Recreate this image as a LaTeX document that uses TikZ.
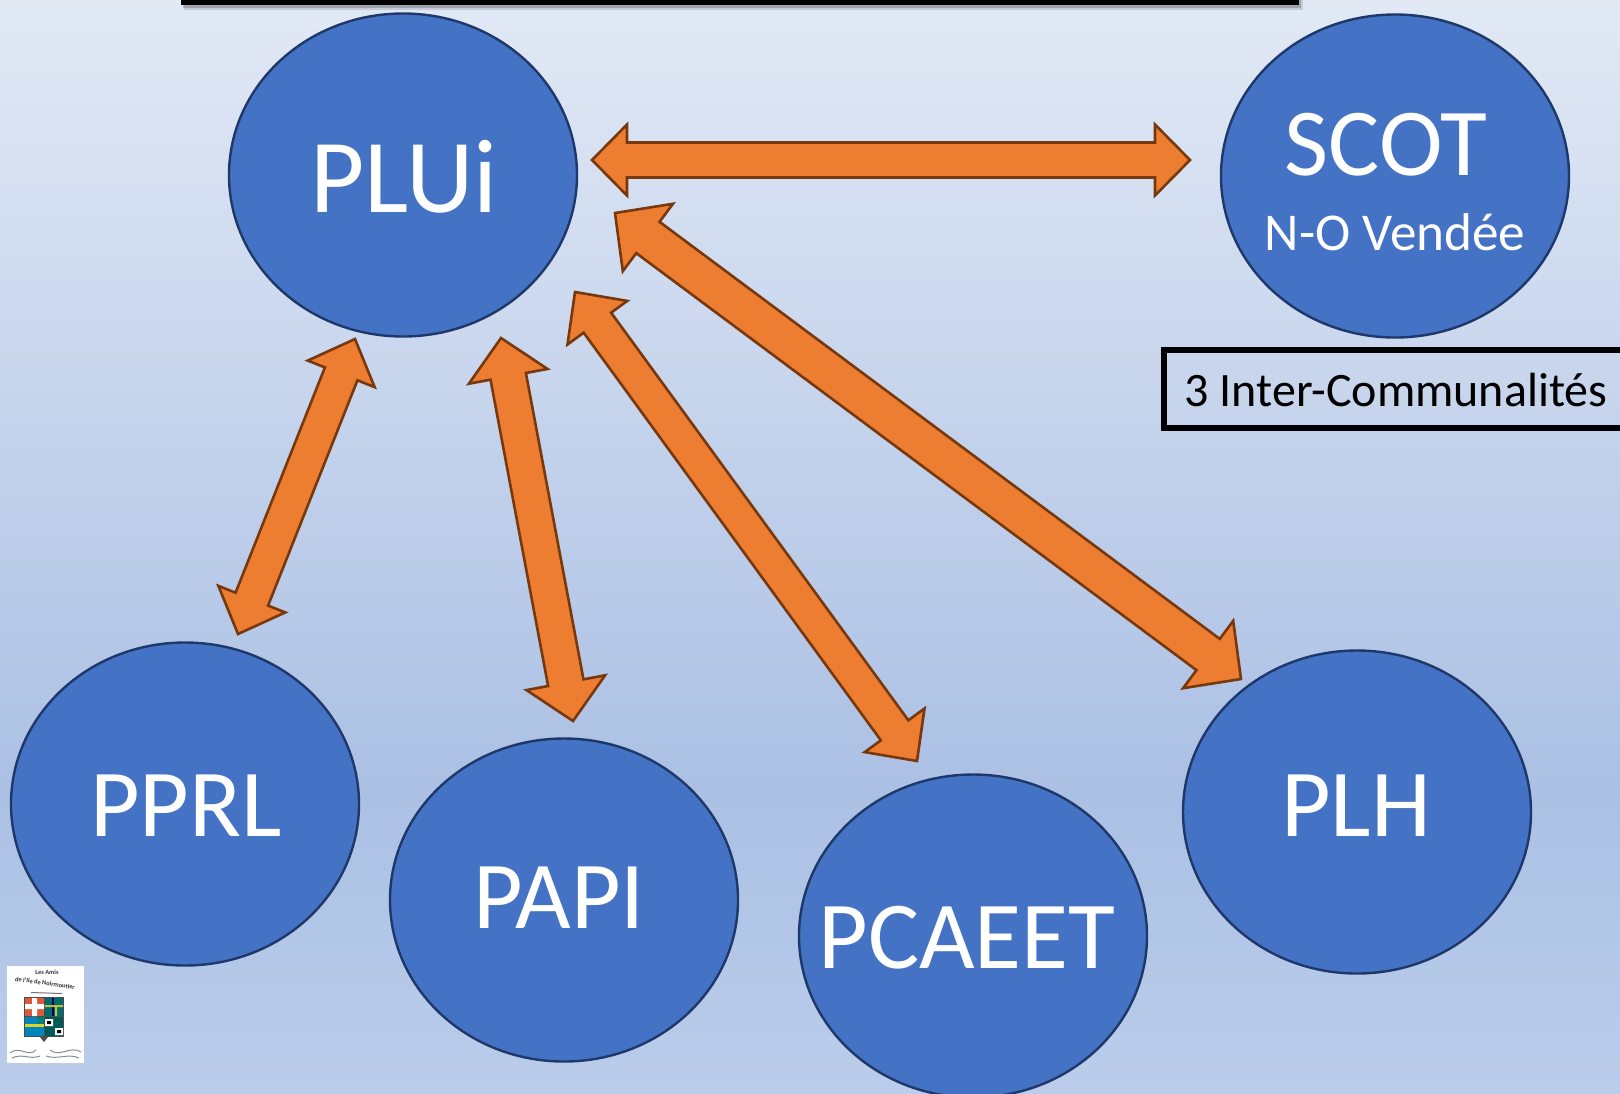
\documentclass[tikz,border=0pt]{standalone}
\usepackage{fontspec}
\setmainfont{Carlito}
\usetikzlibrary{shapes.geometric,calc}
\definecolor{bgTop}{RGB}{226,233,245}
\definecolor{bgMid}{RGB}{171,192,228}
\definecolor{bgBot}{RGB}{187,205,235}
\definecolor{circFill}{RGB}{68,114,196}
\definecolor{circLine}{RGB}{30,56,105}
\definecolor{arrFill}{RGB}{237,125,49}
\definecolor{arrLine}{RGB}{120,56,14}
\tikzset{
  circ/.style={ellipse,draw=circLine,line width=1.2pt,fill=circFill,inner sep=0pt,outer sep=0pt,minimum width=174pt,minimum height=161.5pt},
  big/.style={text=white,inner sep=0pt,font=\fontsize{48}{48}\selectfont},
  mid/.style={text=white,inner sep=0pt,font=\fontsize{48}{48}\selectfont},
  small/.style={text=white,inner sep=0pt,font=\fontsize{26.6}{26.6}\selectfont},
  arrowshape/.style={draw=arrLine,line width=1.3pt,fill=arrFill,line join=miter},
  logotext/.style={inner sep=0pt,text=black!80,font=\fontsize{3.2}{3.6}\selectfont\bfseries}
}
% tip A, tip B, shaft half-width, head half-width, head length
\newcommand{\dblarrow}[5]{%
  \coordinate (qa) at ($(#1)!#5!(#2)$);
  \coordinate (qb) at ($(#2)!#5!(#1)$);
  \draw[arrowshape] (#1)
    -- ($(qa)!#4!90:(#2)$) -- ($(qa)!#3!90:(#2)$)
    -- ($(qb)!#3!-90:(#1)$) -- ($(qb)!#4!-90:(#1)$)
    -- (#2)
    -- ($(qb)!#4!90:(#1)$) -- ($(qb)!#3!90:(#1)$)
    -- ($(qa)!#3!-90:(#2)$) -- ($(qa)!#4!-90:(#2)$)
    -- cycle;
}
\begin{document}
\begin{tikzpicture}[x=0.5pt,y=-0.5pt]
\useasboundingbox (0,0) rectangle (1620,1093);
\clip (0,0) rectangle (1620,1093);
% background
\shade[top color=bgTop,bottom color=bgMid] (0,0) rectangle (1620,790);
\shade[top color=bgMid,bottom color=bgBot] (0,790) rectangle (1620,1093);
% top bar
\fill[black,opacity=.12] (184,0) rectangle (1303,10);
\fill[black,opacity=.2] (183,0) rectangle (1301,8);
\fill[black] (181,0) rectangle (1299,5);
% ellipses
\node[circ] (plui) at (403,175) {};
\node[circ] (scot) at (1395,176) {};
\node[circ] (pprl) at (185,804) {};
\node[circ] (papi) at (564,900) {};
\node[circ] (pcaeet) at (973,936) {};
\node[circ] (plh) at (1357,812) {};
% labels
\node[big,font=\fontsize{52.5}{52.5}\selectfont] (tplui) at (404,177) {PLUi};
\node[mid] (tscot) at (1386,145) {SCOT};
\node[small] (tnov) at (1395,232) {N-O Vendée};
\node[big] (tpprl) at (186,806) {PPRL};
\node[big] (tpapi) at (559,898) {PAPI};
\node[big] (tpcaeet) at (967,938) {PCAEET};
\node[big] (tplh) at (1356,806) {PLH};
% info box
\node[draw=black,line width=2.8pt,rectangle,anchor=north west,inner sep=0pt,minimum width=250pt,minimum height=39pt] (ibox) at (1161,347) {};
\node[inner sep=0pt,text=black,font=\fontsize{24}{24}\selectfont] (tibox) at (1396,390) {3 Inter-Communalités};
% arrows
\coordinate (pluiE) at (592,160);
\coordinate (scotW) at (1190,160);
\dblarrow{pluiE}{scotW}{8.75pt}{17.75pt}{17.5pt}
\coordinate (pluiSE) at (615,213);
\coordinate (plhNW) at (1241,679);
\dblarrow{pluiSE}{plhNW}{9.75pt}{21pt}{20.5pt}
\coordinate (pluiSa) at (575,292);
\coordinate (pcaeetN) at (917,761);
\dblarrow{pluiSa}{pcaeetN}{8.5pt}{18.5pt}{19pt}
\coordinate (pluiSb) at (501,338);
\coordinate (papiN) at (573,721);
\dblarrow{pluiSb}{papiN}{9pt}{20pt}{19.5pt}
\coordinate (pluiSc) at (355,339);
\coordinate (pprlN) at (238,634);
\dblarrow{pluiSc}{pprlN}{8.75pt}{18pt}{18.75pt}
% logo
\fill[white] (7,966) rectangle (84,1063);
\node[logotext] (logoa) at (47,972) {Les Amis};
\node[logotext,rotate=-8] (logob) at (45,983) {de l'Ile de Noirmoutier};
\fill[black!55] (31,992) -- (62,993) -- (62,994) -- (31,993) -- cycle;
\fill[black!70] (24,997) rectangle (64,1037);
\fill[black!70] (40,1037) -- (44,1042) -- (48,1037) -- cycle;
\fill[red!45!brown!90] (25,998) rectangle (44,1016);
\fill[white] (32,998) rectangle (37,1016) (25,1004) rectangle (44,1009);
\fill[teal!85!black] (45,998) rectangle (63,1016);
\fill[blue!40!black] (52,998) rectangle (54,1016);
\fill[yellow!75!black] (45,1005) rectangle (63,1007) (55,1007) rectangle (57,1016);
\fill[blue!30!cyan!75!black] (25,1017) rectangle (44,1036);
\fill[yellow!85!black] (25,1024) rectangle (44,1027);
\fill[teal] (37,1017) rectangle (44,1024);
\fill[teal!70!black] (45,1017) rectangle (63,1036);
\fill[white] (45,1019) rectangle (53,1026) (55,1028) rectangle (63,1035);
\fill[black] (47,1021) rectangle (51,1024) (57,1030) rectangle (61,1033);
\draw[black!45,line width=.5pt] (10,1053) .. controls (20,1045) and (28,1058) .. (36,1050) (50,1050) .. controls (60,1058) and (70,1045) .. (81,1052) (12,1058) .. controls (22,1053) and (30,1060) .. (40,1056) (46,1056) .. controls (58,1060) and (68,1053) .. (79,1058);
\end{tikzpicture}
\end{document}
